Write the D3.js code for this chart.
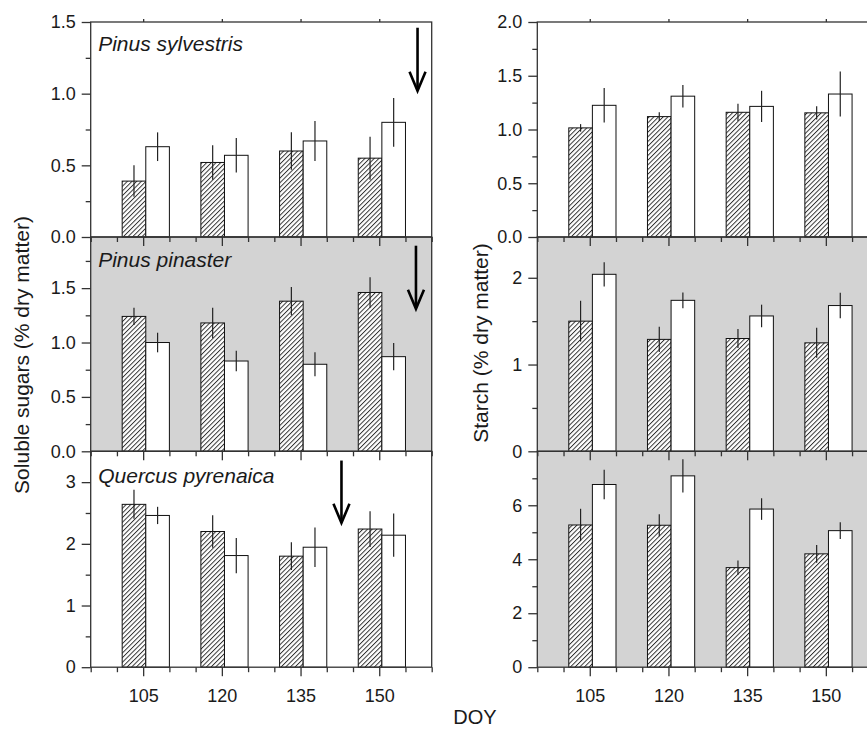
<!DOCTYPE html>
<html>
<head>
<meta charset="utf-8">
<script src="https://cdn.jsdelivr.net/npm/d3@7"></script>
<style>
html,body{margin:0;padding:0;background:#fff;}
svg{display:block;}
text{font-family:"Liberation Sans",Arial,Helvetica,sans-serif;fill:#1a1a1a;}
</style>
</head>
<body>
<svg id="chart" width="867" height="729"></svg>
<script>
// ---------- data ----------
const doy = [105, 120, 135, 150];
const xMajorTicks = [105, 120, 135, 150];
const xMinorTicks = [95, 100, 110, 115, 125, 130, 140, 145, 155, 160];
const species = ["Pinus sylvestris", "Pinus pinaster", "Quercus pyrenaica"];

// Soluble sugars (% dry matter) — hatched (A) and open (B) bars, with SE
const sylvSugarA = [0.39, 0.52, 0.60, 0.55];
const sylvSugarAErr = [0.11, 0.12, 0.13, 0.15];
const sylvSugarB = [0.63, 0.57, 0.67, 0.80];
const sylvSugarBErr = [0.10, 0.12, 0.14, 0.17];
const pinaSugarA = [1.24, 1.18, 1.38, 1.46];
const pinaSugarAErr = [0.08, 0.14, 0.13, 0.14];
const pinaSugarB = [1.00, 0.83, 0.80, 0.87];
const pinaSugarBErr = [0.09, 0.095, 0.11, 0.125];
const querSugarA = [2.64, 2.20, 1.80, 2.24];
const querSugarAErr = [0.235, 0.265, 0.225, 0.29];
const querSugarB = [2.46, 1.81, 1.945, 2.14];
const querSugarBErr = [0.14, 0.285, 0.32, 0.35];

// Starch (% dry matter)
const sylvStarchA = [1.015, 1.12, 1.16, 1.155];
const sylvStarchAErr = [0.035, 0.04, 0.08, 0.062];
const sylvStarchB = [1.225, 1.31, 1.215, 1.33];
const sylvStarchBErr = [0.16, 0.105, 0.145, 0.21];
const pinaStarchA = [1.50, 1.29, 1.30, 1.25];
const pinaStarchAErr = [0.235, 0.145, 0.11, 0.173];
const pinaStarchB = [2.04, 1.74, 1.56, 1.68];
const pinaStarchBErr = [0.14, 0.09, 0.13, 0.146];
const querStarchA = [5.27, 5.26, 3.69, 4.20];
const querStarchAErr = [0.60, 0.41, 0.26, 0.33];
const querStarchB = [6.77, 7.09, 5.86, 5.06];
const querStarchBErr = [0.55, 0.62, 0.40, 0.31];

// y axis extents and ticks
const sugarYMax = [1.5, 1.97, 3.5];
const starchYMax = [2.0, 2.47, 8.0];
const sugarMajor = [[0, 0.5, 1.0, 1.5], [0, 0.5, 1.0, 1.5], [0, 1, 2, 3]];
const sugarMinor = [[0.25, 0.75, 1.25], [0.25, 0.75, 1.25, 1.75], [0.5, 1.5, 2.5]];
const sugarFmt = [".1f", ".1f", "d"];
const starchMajor = [[0, 0.5, 1.0, 1.5, 2.0], [0, 1, 2], [0, 2, 4, 6]];
const starchMinor = [[0.25, 0.75, 1.25, 1.75], [0.5, 1.5], [1, 3, 5, 7]];
const starchFmt = [".1f", "d", "d"];

// arrows (left column): DOY position, start value, tip value
const arrowDoy = [157.3, 157.0, 142.8];
const arrowFrom = [1.46, 1.89, 3.35];
const arrowTo = [1.02, 1.31, 2.34];

// ---------- layout / style ----------
const cols = [[90.7, 431.7], [537.3, 878.3]];
const rows = [[22, 237], [237, 451.3], [451.3, 667.2]];
const bgLeft = ["#ffffff", "#d3d3d3", "#ffffff"];
const bgRight = ["#ffffff", "#d3d3d3", "#d3d3d3"];
const titleBaseline = [50.5, 267, 483];
const BAR_W = 4.5;     // in DOY units
const BAR_OFF = 4.0;   // hatched bar starts DOY-4
const INK = "#1a1a1a";
const AXIS = "#333";

const svg = d3.select("#chart");
const defs = svg.append("defs");
const pat = defs.append("pattern")
  .attr("id", "hatch").attr("patternUnits", "userSpaceOnUse")
  .attr("width", 3.3).attr("height", 3.3)
  .attr("patternTransform", "rotate(45)");
pat.append("rect").attr("width", 3.3).attr("height", 3.3).attr("fill", "#fff");
pat.append("line").attr("x1", 0.5).attr("y1", 0).attr("x2", 0.5).attr("y2", 3.3)
  .attr("stroke", "#222").attr("stroke-width", 0.9);

const panels = [];
const sugarA = [sylvSugarA, pinaSugarA, querSugarA];
const sugarAE = [sylvSugarAErr, pinaSugarAErr, querSugarAErr];
const sugarB = [sylvSugarB, pinaSugarB, querSugarB];
const sugarBE = [sylvSugarBErr, pinaSugarBErr, querSugarBErr];
const starchA = [sylvStarchA, pinaStarchA, querStarchA];
const starchAE = [sylvStarchAErr, pinaStarchAErr, querStarchAErr];
const starchB = [sylvStarchB, pinaStarchB, querStarchB];
const starchBE = [sylvStarchBErr, pinaStarchBErr, querStarchBErr];

for (let r = 0; r < 3; r++) {
  panels.push({col: 0, row: r, yMax: sugarYMax[r], major: sugarMajor[r], minor: sugarMinor[r], fmt: sugarFmt[r],
    bg: bgLeft[r], A: sugarA[r], AE: sugarAE[r], B: sugarB[r], BE: sugarBE[r], title: species[r], arrow: r});
  panels.push({col: 1, row: r, yMax: starchYMax[r], major: starchMajor[r], minor: starchMinor[r], fmt: starchFmt[r],
    bg: bgRight[r], A: starchA[r], AE: starchAE[r], B: starchB[r], BE: starchBE[r], title: null, arrow: null});
}
panels.forEach(p => {
  p.x = d3.scaleLinear().domain([95, 160]).range(cols[p.col]);
  p.y = d3.scaleLinear().domain([0, p.yMax]).range([rows[p.row][1], rows[p.row][0]]);
});

// backgrounds
panels.forEach(p => {
  svg.append("rect")
    .attr("x", cols[p.col][0]).attr("y", rows[p.row][0])
    .attr("width", cols[p.col][1] - cols[p.col][0]).attr("height", rows[p.row][1] - rows[p.row][0])
    .attr("fill", p.bg);
});

// bars and error bars
panels.forEach(p => {
  const g = svg.append("g");
  const series = [
    {vals: p.A, err: p.AE, off: -BAR_OFF, fill: "url(#hatch)"},
    {vals: p.B, err: p.BE, off: -BAR_OFF + BAR_W, fill: "#ffffff"}
  ];
  series.forEach(s => {
    g.selectAll(null).data(doy).enter().append("rect")
      .attr("x", d => p.x(d + s.off))
      .attr("width", p.x(95 + BAR_W) - p.x(95))
      .attr("y", (d, i) => p.y(s.vals[i]))
      .attr("height", (d, i) => p.y(0) - p.y(s.vals[i]))
      .attr("fill", s.fill).attr("stroke", "#111").attr("stroke-width", 1);
    g.selectAll(null).data(doy).enter().append("line")
      .attr("x1", d => p.x(d + s.off + BAR_W / 2)).attr("x2", d => p.x(d + s.off + BAR_W / 2))
      .attr("y1", (d, i) => p.y(s.vals[i] + s.err[i]))
      .attr("y2", (d, i) => p.y(s.vals[i] - s.err[i]))
      .attr("stroke", "#222").attr("stroke-width", 1.2);
  });
});

// arrows
panels.filter(p => p.arrow !== null).forEach(p => {
  const i = p.arrow;
  const ax = p.x(arrowDoy[i]);
  const y0 = p.y(arrowFrom[i]), y1 = p.y(arrowTo[i]);
  svg.append("line").attr("x1", ax).attr("x2", ax).attr("y1", y0).attr("y2", y1 - 1)
    .attr("stroke", "#000").attr("stroke-width", 2.6);
  svg.append("path")
    .attr("d", `M${ax - 8},${y1 - 19} L${ax},${y1} L${ax + 8},${y1 - 19}`)
    .attr("fill", "none").attr("stroke", "#000").attr("stroke-width", 2.6)
    .attr("stroke-linejoin", "miter");
});

// borders & axes
panels.forEach(p => {
  const [x0, x1] = cols[p.col];
  const [yt, yb] = rows[p.row];
  svg.append("rect").attr("x", x0).attr("y", yt).attr("width", x1 - x0).attr("height", yb - yt)
    .attr("fill", "none").attr("stroke", AXIS).attr("stroke-width", 1.3);

  const ay = svg.append("g").attr("transform", `translate(${x0},0)`)
    .call(d3.axisLeft(p.y).tickValues(p.major).tickSize(9).tickPadding(6).tickFormat(d3.format(p.fmt)));
  const ayMin = svg.append("g").attr("transform", `translate(${x0},0)`)
    .call(d3.axisLeft(p.y).tickValues(p.minor).tickSize(5).tickFormat(""));

  const isBottom = p.row === 2;
  const ax = svg.append("g").attr("transform", `translate(0,${yb})`)
    .call(d3.axisBottom(p.x).tickValues(xMajorTicks).tickSize(9).tickPadding(13)
      .tickFormat(isBottom ? d3.format("d") : () => ""));
  const axMin = svg.append("g").attr("transform", `translate(0,${yb})`)
    .call(d3.axisBottom(p.x).tickValues(xMinorTicks).tickSize(5).tickFormat(""));

  const axes = [ay, ayMin, ax, axMin];
  if (p.row === 0) {
    axes.push(svg.append("g").attr("transform", `translate(0,${yt})`)
      .call(d3.axisTop(p.x).tickValues(xMajorTicks).tickSize(3).tickFormat("")));
  }
  axes.forEach(a => {
    a.select(".domain").remove();
    a.selectAll(".tick line").attr("stroke", AXIS).attr("stroke-width", 1.3);
    a.selectAll("text").attr("font-size", 18).attr("fill", INK)
      .attr("font-family", '"Liberation Sans",Arial,sans-serif');
  });

  if (p.title) {
    svg.append("text").attr("x", x0 + 7.5).attr("y", titleBaseline[p.row])
      .attr("font-size", 21).attr("font-style", "italic").text(p.title);
  }
});

// axis titles
svg.append("text").attr("transform", "translate(29,355) rotate(-90)")
  .attr("text-anchor", "middle").attr("font-size", 21).text("Soluble sugars (% dry matter)");
svg.append("text").attr("transform", "translate(488,343) rotate(-90)")
  .attr("text-anchor", "middle").attr("font-size", 21).text("Starch (% dry matter)");
svg.append("text").attr("x", 475).attr("y", 724)
  .attr("text-anchor", "middle").attr("font-size", 20).text("DOY");
</script>
</body>
</html>
